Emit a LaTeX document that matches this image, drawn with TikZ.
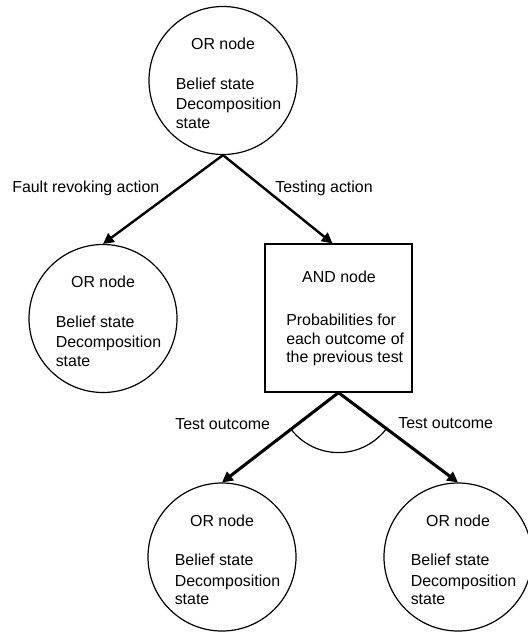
\documentclass[tikz,border=0pt]{standalone}
\usepackage{fontspec}
\setmainfont{Liberation Sans}
\usetikzlibrary{calc,arrows.meta}
\newcommand\orlabels[1]{%
  \node[txt,anchor=base] (#1-t1) at ($(#1)+(0,31)$) {OR node};
  \node[txt,anchor=base west] (#1-t2) at ($(#1)+(-47.5,-8.7)$) {Belief state};
  \node[txt,anchor=base west] (#1-t3) at ($(#1)+(-47.5,-29)$) {Decomposition};
  \node[txt,anchor=base west] (#1-t4) at ($(#1)+(-47.5,-47.7)$) {state};
}
\begin{document}
\begin{tikzpicture}[x=0.75pt,y=0.75pt,
  ornode/.style={circle,draw,line width=0.9pt,minimum size=111pt,inner sep=0pt},
  andnode/.style={draw,line width=0.9pt,minimum width=110.25pt,minimum height=111pt,inner sep=0pt},
  txt/.style={font=\fontsize{11.95pt}{14pt}\selectfont,inner sep=0pt},
  linktop/.style={line width=1.8pt,-{Triangle[length=8pt,width=8pt]}},
  linkbot/.style={line width=2.3pt,-{Triangle[length=8pt,width=8pt]}}]
\useasboundingbox (0,0) rectangle (528,-632);
\node[ornode] (or1) at (223,-80.5) {};
\node[ornode] (or2) at (103,-318.5) {};
\node[andnode] (and) at (338.5,-318) {};
\node[ornode] (or3) at (222,-557) {};
\node[ornode] (or4) at (458,-557) {};
\orlabels{or1}
\orlabels{or2}
\orlabels{or3}
\orlabels{or4}
\node[txt,anchor=base] (and-t1) at ($(and)+(0.5,35.3)$) {AND node};
\node[txt,anchor=base west] (and-t2) at ($(and)+(-52.5,-7.7)$) {Probabilities for};
\node[txt,anchor=base west] (and-t3) at ($(and)+(-52.5,-26.7)$) {each outcome of};
\node[txt,anchor=base west] (and-t4) at ($(and)+(-52.5,-44.7)$) {the previous test};
\node[txt,anchor=base west] (l1) at (12,-192.7) {Fault revoking action};
\node[txt,anchor=base west] (l2) at (275,-192.7) {Testing action};
\node[txt,anchor=base west] (l3) at (175,-429.7) {Test outcome};
\node[txt,anchor=base west] (l4) at (398,-428.7) {Test outcome};
\draw[linktop] (or1.south) -- (or2.north);
\draw[linktop] (or1.south) -- ($(and.north)+(-6,0)$);
\draw[linkbot] (and.south) -- (or3.north);
\draw[linkbot] (and.south) -- (or4.north);
\draw[line width=0.9pt] ($(and.south)+(218.5:45pt)$) arc[start angle=218.5, end angle=323, radius=45pt];
\end{tikzpicture}
\end{document}
